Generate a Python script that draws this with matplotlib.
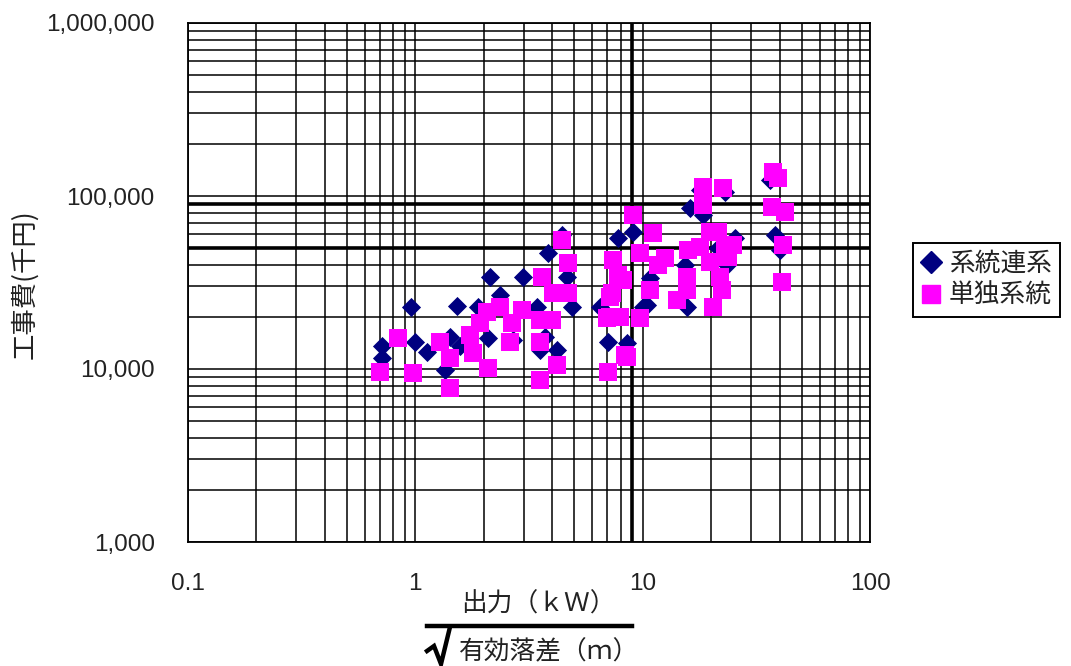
import matplotlib
matplotlib.use('Agg')
import matplotlib.pyplot as plt
from matplotlib.lines import Line2D
from matplotlib.ticker import FixedLocator, FixedFormatter, NullFormatter

plt.rcParams['font.family'] = ['Noto Sans CJK JP', 'DejaVu Sans']

# ---- data ----
series_names = ['系統連系', '単独系統']

grid_x = [0.71, 0.71, 0.96, 1.0, 1.12, 1.52, 1.42, 1.35, 1.57, 2.13,
          2.98, 2.36, 1.89, 2.09, 2.69, 3.54, 4.20, 3.84, 4.41, 4.64,
          4.88, 3.42, 3.72, 7.04, 8.51, 7.80, 9.07, 6.50, 10.0, 10.8,
          38.2, 40.2, 36.3, 16.2, 18.5, 15.4, 23.4, 15.6, 25.5, 10.4,
          21.5, 17.9, 23.1]
grid_y = [13500, 11600, 22900, 14300, 12600, 23100, 15400, 9870, 13500, 34000,
          34000, 26800, 22900, 15100, 14700, 12900, 12900, 46900, 59500, 34200,
          22900, 22900, 15400, 14400, 14100, 57200, 62200, 22900, 22900, 33600,
          59500, 48700, 124000, 85300, 77700, 39900, 39900, 22900, 57200, 23400,
          50000, 108000, 106000]

alone_x = [0.70, 0.84, 0.98, 1.28, 1.42, 1.42, 1.74, 1.79, 2.09, 1.93,
           2.07, 2.36, 2.65, 2.61, 2.94, 3.54, 3.54, 3.60, 3.54, 3.98,
           4.03, 4.70, 4.70, 4.41, 4.19, 7.04, 6.95, 7.96, 8.37, 7.31,
           7.41, 8.20, 9.07, 9.75, 11.1, 9.75, 10.8, 37.5, 39.4, 37.0,
           42.3, 41.5, 40.9, 18.5, 22.6, 18.5, 19.8, 21.5, 15.8, 17.9,
           23.1, 25.0, 23.8, 19.8, 21.9, 15.6, 14.1, 15.6, 20.4, 22.3,
           12.6, 11.7, 7.80, 7.19, 7.19, 8.51]
alone_y = [9640, 15100, 9480, 14400, 11600, 7770, 15700, 12400, 10100, 18400,
           21400, 22900, 18400, 14400, 21900, 14400, 8640, 34200, 19200, 19200,
           27500, 27500, 41000, 55700, 10500, 9640, 19700, 20100, 12100, 27500,
           42700, 32700, 77700, 46900, 61100, 19700, 28600, 138000, 127000, 86700,
           81100, 52100, 32000, 113000, 111000, 88700, 62200, 62200, 48700, 50900,
           48700, 52100, 44600, 41700, 34200, 34200, 25000, 28600, 22900, 28600,
           43800, 39900, 34900, 26200, 20100, 11800]

x_ticks = [0.1, 1, 10, 100]
x_tick_labels = ['0.1', '1', '10', '100']
y_ticks = [1000, 10000, 100000, 1000000]
y_tick_labels = ['1,000', '10,000', '100,000', '1,000,000']
ref_x = [9]
ref_y = [50000, 90000]

y_label = '工事費(千円)'
x_label_num = '出力（ｋＷ）'
x_label_den = '有効落差（ｍ）'

navy = '#000080'
magenta = '#FF00FF'

W, H = 1071, 666
fig = plt.figure(figsize=(W / 100, H / 100), dpi=100)
ax = fig.add_axes([188 / W, 1 - 542 / H, (870 - 188) / W, (542 - 23) / H])
ax.set_xscale('log')
ax.set_yscale('log')
ax.set_xlim(0.1, 100)
ax.set_ylim(1000, 1000000)

# grid: majors and all minors in black
minor_x = [m * 10.0 ** e for e in range(-1, 2) for m in range(2, 10)]
minor_y = [m * 10.0 ** e for e in range(3, 6) for m in range(2, 10)]
ax.xaxis.set_major_locator(FixedLocator(x_ticks))
ax.xaxis.set_major_formatter(FixedFormatter(x_tick_labels))
ax.yaxis.set_major_locator(FixedLocator(y_ticks))
ax.yaxis.set_major_formatter(FixedFormatter(y_tick_labels))
ax.xaxis.set_minor_locator(FixedLocator(minor_x))
ax.yaxis.set_minor_locator(FixedLocator(minor_y))
ax.xaxis.set_minor_formatter(NullFormatter())
ax.yaxis.set_minor_formatter(NullFormatter())
ax.grid(True, which='both', color='black', linewidth=1.1)
ax.set_axisbelow(True)
for v in ref_x:
    ax.axvline(v, color='black', linewidth=2.6, zorder=1.5)
for v in ref_y:
    ax.axhline(v, color='black', linewidth=2.6, zorder=1.5)
for s in ax.spines.values():
    s.set_linewidth(1.3)
    s.set_color('black')

ax.tick_params(which='both', length=0)
ax.tick_params(axis='x', pad=22)
ax.tick_params(axis='y', pad=24)
for lab in ax.get_xticklabels() + ax.get_yticklabels():
    lab.set_fontfamily(['Liberation Sans', 'DejaVu Sans'])
    lab.set_fontsize(17.5)
    lab.set_color('#222222')

ax.scatter(grid_x, grid_y, marker='D', s=95, color=navy, linewidths=0, zorder=3)
ax.scatter(alone_x, alone_y, marker='s', s=150, color=magenta, linewidths=0, zorder=4)

# y label
fig.text(25 / W, 1 - 284 / H, y_label, rotation=90, ha='center', va='center',
         fontsize=19, color='#222222')

# x label as a fraction with radical sign
fig.text(538 / W, 1 - 605 / H, x_label_num, ha='center', va='center',
         fontsize=18.5, color='#222222')
fig.add_artist(Line2D([427 / W, 632 / W], [1 - 626 / H, 1 - 626 / H],
                      color='black', linewidth=3.2, transform=fig.transFigure))
rad_px = [(427, 651), (434, 646), (441, 664), (450, 627)]
fig.add_artist(Line2D([p[0] / W for p in rad_px], [1 - p[1] / H for p in rad_px],
                      color='black', linewidth=3.2, solid_joinstyle='miter',
                      transform=fig.transFigure))
fig.text(549 / W, 1 - 652 / H, x_label_den, ha='center', va='center',
         fontsize=18.5, color='#222222')

# legend
handles = [Line2D([], [], marker='D', linestyle='none', color=navy, markersize=11.5),
           Line2D([], [], marker='s', linestyle='none', color=magenta, markersize=13)]
leg = fig.legend(handles, series_names, loc='upper left',
                 bbox_to_anchor=(913 / W, 1 - 243 / H), bbox_transform=fig.transFigure,
                 borderaxespad=0, frameon=True, fancybox=False, framealpha=1,
                 edgecolor='black', handlelength=0.8, handletextpad=0.3,
                 borderpad=0.3, labelspacing=0.25, fontsize=18.5)
leg.get_frame().set_linewidth(1.4)
for t in leg.get_texts():
    t.set_color('#222222')

fig.savefig('out.png', dpi=100)
